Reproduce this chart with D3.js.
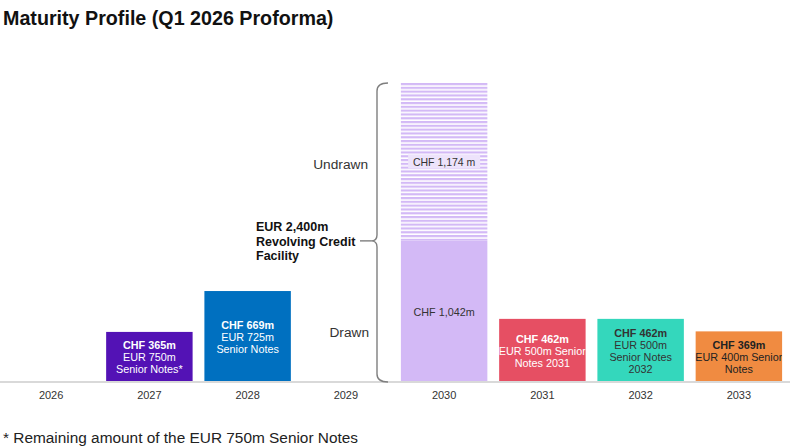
<!DOCTYPE html>
<html><head><meta charset="utf-8">
<script src="https://cdn.jsdelivr.net/npm/d3@7"></script>
<style>
html,body{margin:0;padding:0;background:#fff;}
svg{display:block;font-family:"Liberation Sans",Arial,sans-serif;}
</style></head>
<body><svg id="chart" width="793" height="447"></svg>
<script>
const years = ["2026","2027","2028","2029","2030","2031","2032","2033"];
const drawnValues = [0, 365, 669, 0, 1042, 462, 462, 369];
const undrawnValues = [0, 0, 0, 0, 1174, 0, 0, 0];
const barColors = ["#ffffff","#5312b5","#0070c0","#ffffff","#d3b9f6","#e64f63","#34d7bc","#f08b41"];
const labelColors = ["#fff","#fff","#fff","#fff","#333","#fff","#333","#222"];
const barLabels = [
  [],
  ["CHF 365m","EUR 750m","Senior Notes*"],
  ["CHF 669m","EUR 725m","Senior Notes"],
  [],
  ["CHF 1,042m"],
  ["CHF 462m","EUR 500m Senior","Notes 2031"],
  ["CHF 462m","EUR 500m","Senior Notes","2032"],
  ["CHF 369m","EUR 400m Senior","Notes"]
];
const undrawnLabel = "CHF 1,174 m";
const title = "Maturity Profile (Q1 2026 Proforma)";
const footnote = "* Remaining amount of the EUR 750m Senior Notes";
const rcfLabel = ["EUR 2,400m","Revolving Credit","Facility"];

(function(){
const svg = d3.select("#chart");
const x = d3.scaleBand().domain(years).range([2, 788]).paddingInner(0.12).paddingOuter(0.06);
const y = d3.scaleLinear().domain([0, 2216]).range([381, 83]);

const defs = svg.append("defs");
const pat = defs.append("pattern").attr("id","hatch").attr("patternUnits","userSpaceOnUse")
  .attr("width",8).attr("height",3.8).attr("y",y(2216));
pat.append("rect").attr("width",8).attr("height",3.8).attr("fill","#fff");
pat.append("rect").attr("width",8).attr("height",2.2).attr("fill","#d3b9f6");

svg.append("text").attr("x",3).attr("y",25).attr("font-size","19.7px").attr("font-weight","bold")
  .attr("fill","#111").text(title);

svg.append("line").attr("x1",0).attr("x2",790).attr("y1",382).attr("y2",382)
  .attr("stroke","#d9d9d9").attr("stroke-width",2);

const data = years.map((yr,i)=>({yr, d:drawnValues[i], u:undrawnValues[i], c:barColors[i], lc:labelColors[i], lines:barLabels[i], i}));
data.filter(d=>d.d>0).forEach(d=>{
  defs.append("clipPath").attr("id","clip"+d.i).append("rect")
    .attr("x",x(d.yr)).attr("y",y(d.d)).attr("width",x.bandwidth()).attr("height",y(0)-y(d.d));
  svg.append("rect").attr("x",x(d.yr)).attr("y",y(d.d)).attr("width",x.bandwidth())
    .attr("height",y(0)-y(d.d)).attr("fill",d.c);
  if(d.u>0){
    svg.append("rect").attr("x",x(d.yr)).attr("y",y(d.d+d.u)).attr("width",x.bandwidth())
      .attr("height",y(d.d)-y(d.d+d.u)).attr("fill","url(#hatch)");
  }
  const cx = x(d.yr)+x.bandwidth()/2;
  const cy = (y(d.d)+y(0))/2 + 1;
  const lh = 12;
  const n = d.lines.length;
  const g = svg.append("g").attr("clip-path","url(#clip"+d.i+")");
  d.lines.forEach((t,k)=>{
    g.append("text").attr("x",cx).attr("y",cy + (k-(n-1)/2)*lh + 4)
      .attr("text-anchor","middle").attr("font-size","10.8px")
      .attr("font-weight", (k===0 && n>1) ? "bold":"normal")
      .attr("fill",d.lc).text(t);
  });
  if(d.u>0){
    const uy = (y(d.d)+y(d.d+d.u))/2;
    const tw = 64;
    svg.append("rect").attr("x",cx-tw/2-4).attr("y",uy-7.5).attr("width",tw+8).attr("height",14)
      .attr("fill","#ede3fb");
    svg.append("text").attr("x",cx).attr("y",uy+3.8).attr("text-anchor","middle")
      .attr("font-size","10.5px").attr("fill","#333").text(undrawnLabel);
  }
});

years.forEach(yr=>{
  svg.append("text").attr("x",x(yr)+x.bandwidth()/2).attr("y",399).attr("text-anchor","middle")
    .attr("font-size","11px").attr("fill","#333").text(yr);
});

const rcf = data[4];
const yTop = y(rcf.d+rcf.u), yMid = y(rcf.d), yBot = y(0)+1;
const bx = 377;
svg.append("path").attr("fill","none").attr("stroke","#7f7f7f").attr("stroke-width",1.4)
  .attr("d",`M ${bx+11} ${yTop} Q ${bx} ${yTop} ${bx} ${yTop+8} L ${bx} ${yMid-6} Q ${bx} ${yMid} ${bx-6} ${yMid} Q ${bx} ${yMid} ${bx} ${yMid+6} L ${bx} ${yBot-8} Q ${bx} ${yBot} ${bx+11} ${yBot}`);
svg.append("line").attr("x1",360).attr("x2",bx-6).attr("y1",yMid).attr("y2",yMid)
  .attr("stroke","#7f7f7f").attr("stroke-width",1.4);

rcfLabel.forEach((t,k)=>{
  svg.append("text").attr("x",256).attr("y",231+k*14.5).attr("font-size","12.5px")
    .attr("font-weight","bold").attr("fill","#111").text(t);
});
svg.append("text").attr("x",368).attr("y",169).attr("text-anchor","end").attr("font-size","13.7px")
  .attr("fill","#333").text("Undrawn");
svg.append("text").attr("x",369).attr("y",337).attr("text-anchor","end").attr("font-size","13.7px")
  .attr("fill","#333").text("Drawn");

svg.append("text").attr("x",3).attr("y",443).attr("font-size","15.4px").attr("fill","#222").text(footnote);
})();
</script></body></html>
